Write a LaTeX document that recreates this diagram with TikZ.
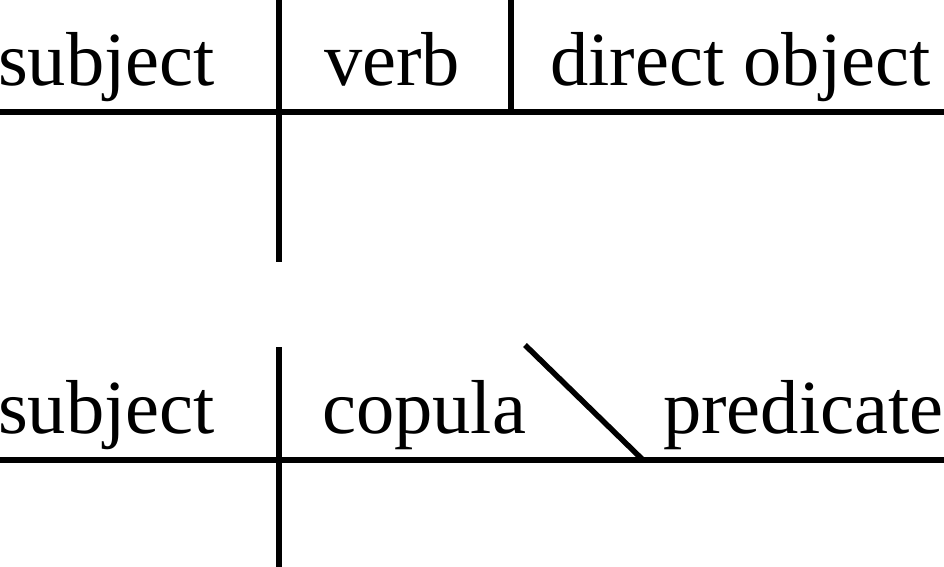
\documentclass[tikz,border=0pt]{standalone}
\usepackage{fontspec}
\setmainfont{Liberation Serif}
\usepackage{tikz}
\def\drawrule{\draw[color=black, line width=5.5pt]}

\begin{document}
\begin{tikzpicture}[x=1pt,y=-1pt,inner sep=0pt,font=\fontsize{76.5}{90}\selectfont]
\useasboundingbox (0,0) rectangle (944,566);
% first diagram
\node[anchor=base west] (subja) at (-2,85) {subject};
\node[anchor=base west] (verb) at (324,85) {verb};
\node[anchor=base west] (dobj) at (550,85) {direct object};
\coordinate (la) at (-5,112);
\coordinate (ra) at (950,112);
\coordinate (ta) at (279,-5);
\coordinate (ba) at (279,262);
\coordinate (va) at (511,-5);
\coordinate (wa) at (511,112);
\drawrule (la) -- (ra);
\drawrule (ta) -- (ba);
\drawrule (va) -- (wa);
% second diagram
\node[anchor=base west] (subjb) at (-2,433) {subject};
\node[anchor=base west] (cop) at (322,433) {copula};
\node[anchor=base west] (pred) at (663,433) {predicate};
\coordinate (lb) at (-5,460);
\coordinate (rb) at (950,460);
\coordinate (tb) at (279,347);
\coordinate (bb) at (279,571);
\coordinate (sa) at (525,345);
\coordinate (sb) at (643,460);
\drawrule (lb) -- (rb);
\drawrule (tb) -- (bb);
\drawrule (sa) -- (sb);
\end{tikzpicture}
\end{document}
